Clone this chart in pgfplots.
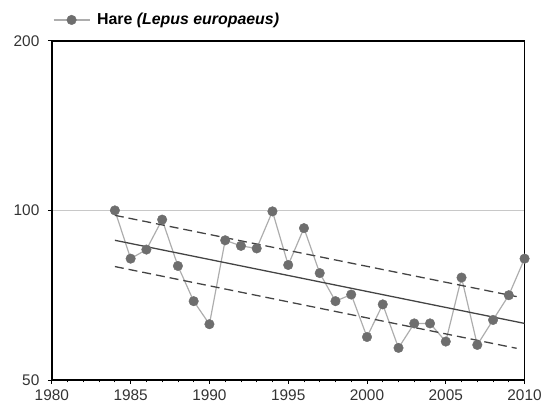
\documentclass[border=0pt]{standalone}
\usepackage{pgfplots}
\pgfplotsset{compat=1.18}
\usepackage{fontspec}
\setmainfont{Liberation Sans}
\definecolor{markgray}{HTML}{6E6E6E}
\definecolor{linegray}{HTML}{ADADAD}
\definecolor{gridgray}{HTML}{C8C8C8}
\definecolor{trend}{HTML}{444444}
\definecolor{labgray}{HTML}{333333}
\begin{document}
\begin{tikzpicture}
\begin{axis}[
  scale only axis,
  width=474bp, height=340bp,
  xmin=1980, xmax=2010,
  ymode=log, ymin=50, ymax=200,
  xtick={1980,1985,1990,1995,2000,2005,2010},
  xticklabels={1980,1985,1990,1995,2000,2005,2010},
  minor x tick num=4,
  ytick={50,100,200},
  yticklabels={50,100,200},
  yminorticks=false,
  xtick pos=bottom, ytick pos=left,
  tick align=outside,
  major tick length=4bp, minor tick length=2.5bp,
  tick style={black, line width=0.8pt},
  axis line style={black, line width=1.4pt},
  ymajorgrids,
  major grid style={gridgray, line width=1.4pt},
  /pgf/number format/assume math mode=true,
  ticklabel style={font=\fontsize{15.5}{17}\selectfont, text=labgray},
  xticklabel style={yshift=-2.5bp},
  yticklabel style={xshift=-5bp},
  legend style={draw=none, fill=none, at={(0,1)}, anchor=west,
    xshift=1bp, yshift=21bp, font=\fontsize{16}{18}\selectfont\bfseries,
    inner sep=0pt},
  legend image code/.code={\draw[mark repeat=2,mark phase=2,#1] plot coordinates {(0bp,0bp) (18bp,0bp) (36bp,0bp)};},
  clip=false,
]
\addplot[linegray, line width=1.2pt, mark=*, mark size=4.8bp,
  mark options={fill=markgray, draw=markgray, line width=0.4pt}]
  coordinates {
  (1984,100.0) (1985,82.1) (1986,85.2) (1987,96.3) (1988,79.7)
  (1989,69.0) (1990,62.8) (1991,88.5) (1992,86.5) (1993,85.6)
  (1994,99.6) (1995,80.0) (1996,93.0) (1997,77.4) (1998,69.0)
  (1999,70.9) (2000,59.6) (2001,68.1) (2002,57.0) (2003,63.0)
  (2004,63.0) (2005,58.5) (2006,76.0) (2007,57.7) (2008,63.9)
  (2009,70.7) (2010,82.1)};
\addlegendentry{\hspace*{5bp}Hare \textit{(Lepus europaeus)}}
\addplot[trend, line width=1.3pt, forget plot] coordinates {(1984,88.5) (2010,63.0)};
\addplot[trend, line width=1.3pt, dash pattern=on 9bp off 5bp, forget plot] coordinates {(1984,98.0) (2009.5,70.3)};
\addplot[trend, line width=1.3pt, dash pattern=on 9bp off 5bp, forget plot] coordinates {(1984,79.5) (2009.5,56.9)};
\path (rel axis cs:0,0) ++(-52bp,-26bp) coordinate (bbsw);
\path (rel axis cs:1,1) ++(19bp,41bp) coordinate (bbne);
\end{axis}
\path (bbsw) rectangle (bbne);
\end{tikzpicture}
\end{document}
